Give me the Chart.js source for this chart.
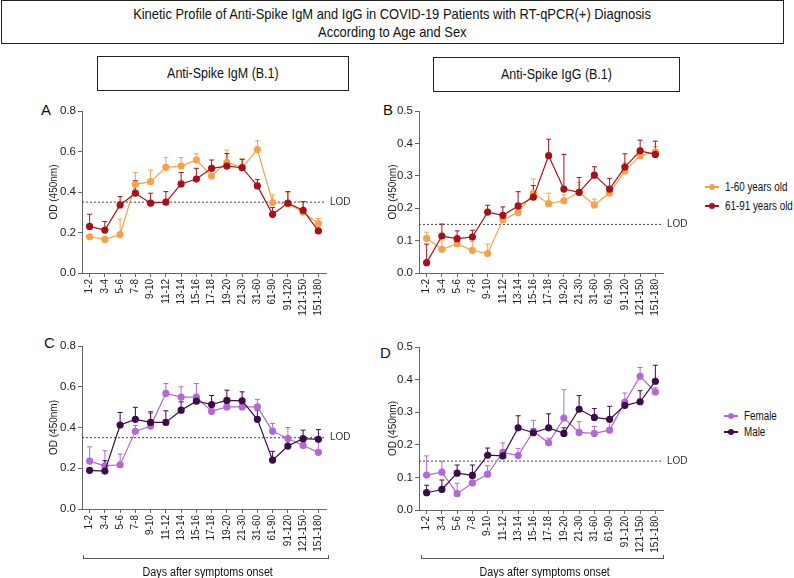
<!DOCTYPE html>
<html>
<head>
<meta charset="utf-8">
<script src="https://cdn.jsdelivr.net/npm/chart.js@4.4.1/dist/chart.umd.min.js"></script>
<style>
  body { margin: 0; background: #fff; font-family: Arial, "Liberation Sans", sans-serif; color: #111; }
  #page { position: relative; width: 794px; height: 578px; overflow: hidden; }
  .box { position: absolute; border: 1px solid #222; box-sizing: border-box; text-align: center; }
  .sq { display: inline-block; transform: scaleX(0.86); transform-origin: center; white-space: nowrap; }
  .abs { position: absolute; white-space: nowrap; }
  canvas { position: absolute; }
  .letter { position: absolute; font-size: 15px; }
  .leg { position: absolute; height: 14px; font-size: 12px; line-height: 14px; }
  .leg .ln { position: absolute; left: 0; top: 6px; width: 14px; height: 1.5px; }
  .leg .dt { position: absolute; left: 4px; top: 3.5px; width: 6px; height: 6px; border-radius: 50%; }
  .leg .tx { position: absolute; left: 20px; top: 0; transform: scaleX(0.82); transform-origin: left; white-space: nowrap; }
  .bracket { position: absolute; height: 4px; border: 1px solid #555; border-top: none; box-sizing: border-box; }
</style>
</head>
<body>
<div id="page">
  <div class="box" style="left:1px; top:0; width:783px; height:44px; font-size:15px; line-height:18px; padding-top:4px;">
    <span class="sq">Kinetic Profile of Anti-Spike IgM and IgG in COVID-19 Patients with RT-qPCR(+) Diagnosis</span><br>
    <span class="sq">According to Age and Sex</span>
  </div>
  <div class="box" style="left:97px; top:56px; width:252px; height:35px; font-size:14.5px; line-height:33px;">
    <span class="sq">Anti-Spike IgM (B.1)</span>
  </div>
  <div class="box" style="left:433px; top:57px; width:247px; height:35px; font-size:14.5px; line-height:33px;">
    <span class="sq">Anti-Spike IgG (B.1)</span>
  </div>

  <div class="letter" style="left:41px; top:101px;">A</div>
  <div class="letter" style="left:383px; top:101px;">B</div>
  <div class="letter" style="left:44px; top:334px;">C</div>
  <div class="letter" style="left:380px; top:344px;">D</div>

  <canvas id="chartA" width="320" height="230" style="left:43px; top:100px; width:320px; height:230px;"></canvas>
  <canvas id="chartB" width="308" height="230" style="left:382px; top:100px; width:308px; height:230px;"></canvas>
  <canvas id="chartC" width="320" height="231" style="left:43px; top:335px; width:320px; height:231px;"></canvas>
  <canvas id="chartD" width="308" height="231" style="left:382px; top:336px; width:308px; height:231px;"></canvas>

  <div id="legendB"></div>
  <div id="legendD"></div>

  <div class="bracket" style="left:83px; top:555px; width:246px;"></div>
  <div class="bracket" style="left:421px; top:555px; width:243px;"></div>
  <div class="abs" style="left:108px; top:565px; width:200px; text-align:center; font-size:12.5px;"><span class="sq">Days after symptoms onset</span></div>
  <div class="abs" style="left:445px; top:565px; width:200px; text-align:center; font-size:12.5px;"><span class="sq">Days after symptoms onset</span></div>
</div>

<script>
// Tage nach Symptombeginn
const categories = ["1-2", "3-4", "5-6", "7-8", "9-10", "11-12", "13-14", "15-16", "17-18", "19-20", "21-30", "31-60", "61-90", "91-120", "121-150", "151-180"];

// IgM nach Alter (Mittelwert und oberes Fehlerende)
const youngIgM = [0.179, 0.166, 0.19, 0.438, 0.451, 0.522, 0.528, 0.558, 0.479, 0.547, 0.52, 0.61, 0.348, 0.342, 0.30, 0.244];
const youngIgMErr = [0.19, 0.178, 0.266, 0.496, 0.509, 0.571, 0.57, 0.589, 0.49, 0.607, 0.565, 0.653, 0.386, 0.395, 0.35, 0.269];
const oldIgM = [0.23, 0.212, 0.336, 0.394, 0.345, 0.35, 0.44, 0.464, 0.517, 0.528, 0.52, 0.43, 0.29, 0.345, 0.31, 0.208];
const oldIgMErr = [0.29, 0.254, 0.377, 0.456, 0.394, 0.402, 0.496, 0.517, 0.558, 0.59, 0.56, 0.461, 0.323, 0.402, 0.353, 0.241];

// IgG nach Alter
const youngIgG = [0.107, 0.073, 0.09, 0.07, 0.06, 0.164, 0.187, 0.246, 0.214, 0.223, 0.249, 0.21, 0.247, 0.315, 0.362, 0.374];
const youngIgGErr = [0.126, 0.099, 0.107, 0.097, 0.089, 0.179, 0.2, 0.29, 0.246, 0.241, 0.28, 0.228, 0.261, 0.34, 0.385, 0.39];
const oldIgG = [0.032, 0.114, 0.106, 0.111, 0.188, 0.178, 0.207, 0.234, 0.362, 0.259, 0.249, 0.302, 0.259, 0.327, 0.377, 0.366];
const oldIgGErr = [0.089, 0.151, 0.13, 0.132, 0.209, 0.204, 0.251, 0.27, 0.413, 0.366, 0.295, 0.328, 0.292, 0.368, 0.41, 0.407];

// IgM nach Geschlecht
const femaleIgM = [0.235, 0.212, 0.217, 0.381, 0.407, 0.567, 0.549, 0.549, 0.479, 0.501, 0.501, 0.501, 0.382, 0.346, 0.312, 0.278];
const femaleIgMErr = [0.305, 0.286, 0.27, 0.41, 0.47, 0.616, 0.6, 0.616, 0.5, 0.52, 0.52, 0.538, 0.42, 0.4, 0.33, 0.34];
const maleIgM = [0.19, 0.186, 0.412, 0.44, 0.425, 0.425, 0.485, 0.529, 0.513, 0.533, 0.531, 0.44, 0.24, 0.309, 0.345, 0.342];
const maleIgMErr = [0.2, 0.237, 0.474, 0.499, 0.477, 0.482, 0.526, 0.562, 0.557, 0.583, 0.575, 0.485, 0.283, 0.338, 0.387, 0.39];

// IgG nach Geschlecht
const femaleIgG = [0.107, 0.116, 0.05, 0.083, 0.11, 0.177, 0.167, 0.241, 0.206, 0.282, 0.238, 0.235, 0.245, 0.331, 0.41, 0.362];
const femaleIgGErr = [0.166, 0.149, 0.082, 0.115, 0.136, 0.206, 0.189, 0.275, 0.22, 0.369, 0.271, 0.256, 0.27, 0.359, 0.437, 0.375];
const maleIgG = [0.053, 0.063, 0.113, 0.106, 0.168, 0.166, 0.252, 0.237, 0.252, 0.235, 0.309, 0.284, 0.278, 0.321, 0.332, 0.395];
const maleIgGErr = [0.076, 0.092, 0.138, 0.138, 0.19, 0.18, 0.289, 0.25, 0.295, 0.252, 0.351, 0.311, 0.318, 0.33, 0.366, 0.444];

const colYoung = "#f4a24c";
const colOld = "#a3121b";
const colFemale = "#b468d2";
const colMale = "#3b0c49";
const axisCol = "#666";
const fontFam = "Arial, 'Liberation Sans', sans-serif";

// Fehlerbalken (nur nach oben) und LOD-Linie
const extrasPlugin = {
  id: "extras",
  beforeDatasetsDraw(chart, args, opts) {
    const { ctx, chartArea, scales } = chart;
    // LOD
    const yLod = scales.y.getPixelForValue(opts.lod);
    ctx.save();
    ctx.strokeStyle = "#444";
    ctx.lineWidth = 1;
    ctx.setLineDash([2, 2]);
    ctx.beginPath();
    ctx.moveTo(chartArea.left, yLod);
    ctx.lineTo(chartArea.right, yLod);
    ctx.stroke();
    ctx.setLineDash([]);
    ctx.fillStyle = "#333";
    ctx.font = "10px " + fontFam;
    ctx.textBaseline = "middle";
    ctx.fillText("LOD", chartArea.right + 4, yLod);
    // Fehlerbalken
    chart.data.datasets.slice().reverse().forEach((ds) => {
      ctx.strokeStyle = ds.borderColor;
      ctx.lineWidth = 1;
      ds.errUpper.forEach((up, i) => {
        const x = scales.x.getPixelForValue(i);
        const y0 = scales.y.getPixelForValue(ds.data[i]);
        const y1 = scales.y.getPixelForValue(up);
        ctx.beginPath();
        ctx.moveTo(x, y0);
        ctx.lineTo(x, y1);
        ctx.moveTo(x - 2.5, y1);
        ctx.lineTo(x + 2.5, y1);
        ctx.stroke();
      });
    });
    ctx.restore();
  },
};

function makeChart(id, series, yMax, yStep, lod, yWidth, padRight) {
  const ctx = document.getElementById(id).getContext("2d");
  return new Chart(ctx, {
    type: "line",
    data: {
      labels: categories,
      datasets: series.map((s) => ({
        data: s.data,
        errUpper: s.err,
        borderColor: s.color,
        backgroundColor: s.color,
        pointBackgroundColor: s.color,
        pointBorderColor: s.color,
        pointRadius: 3,
        borderWidth: 1.2,
        tension: 0,
      })),
    },
    options: {
      responsive: false,
      animation: false,
      layout: { padding: { top: 11, right: padRight, left: 0, bottom: 0 } },
      plugins: { legend: { display: false }, tooltip: { enabled: false }, extras: { lod: lod } },
      scales: {
        x: {
          offset: true,
          grid: { display: true, drawOnChartArea: false, drawTicks: true, tickLength: 4, color: axisCol, offset: false },
          border: { color: axisCol, width: 1 },
          ticks: { autoSkip: false, minRotation: 90, maxRotation: 90, padding: 2, color: "#222", font: { size: 10, family: fontFam } },
          afterFit: (s) => { s.height = 57; },
        },
        y: {
          min: 0,
          max: yMax,
          grid: { display: true, drawOnChartArea: false, drawTicks: true, tickLength: 4, color: axisCol },
          border: { color: axisCol, width: 1 },
          ticks: { stepSize: yStep, padding: 2, color: "#222", font: { size: 11.5, family: fontFam }, callback: (v) => v.toFixed(1) },
          title: { display: true, text: "OD (450nm)", color: "#222", font: { size: 10, family: fontFam }, padding: { top: 5, bottom: 0 } },
          afterFit: (s) => { s.width = yWidth; },
        },
      },
    },
    plugins: [extrasPlugin],
  });
}

makeChart("chartA", [
  { data: oldIgM, err: oldIgMErr, color: colOld },
  { data: youngIgM, err: youngIgMErr, color: colYoung },
], 0.8, 0.2, 0.35, 39, 37);

makeChart("chartB", [
  { data: oldIgG, err: oldIgGErr, color: colOld },
  { data: youngIgG, err: youngIgGErr, color: colYoung },
], 0.5, 0.1, 0.15, 37, 27);

makeChart("chartC", [
  { data: maleIgM, err: maleIgMErr, color: colMale },
  { data: femaleIgM, err: femaleIgMErr, color: colFemale },
], 0.8, 0.2, 0.35, 39, 37);

makeChart("chartD", [
  { data: maleIgG, err: maleIgGErr, color: colMale },
  { data: femaleIgG, err: femaleIgGErr, color: colFemale },
], 0.5, 0.1, 0.15, 37, 27);

// Legenden als HTML
function makeLegend(id, items, left, top, gap) {
  const host = document.getElementById(id);
  items.forEach((it, i) => {
    const row = document.createElement("div");
    row.className = "leg";
    row.style.left = left + "px";
    row.style.top = top + i * gap + "px";
    row.innerHTML = '<div class="ln" style="background:' + it.color + '"></div>' +
      '<div class="dt" style="background:' + it.color + '"></div>' +
      '<div class="tx">' + it.label + "</div>";
    host.appendChild(row);
  });
}
makeLegend("legendB", [{ label: "1-60 years old", color: colYoung }, { label: "61-91 years old", color: colOld }], 705, 180, 19);
makeLegend("legendD", [{ label: "Female", color: colFemale }, { label: "Male", color: colMale }], 724, 409, 16);
</script>
</body>
</html>
